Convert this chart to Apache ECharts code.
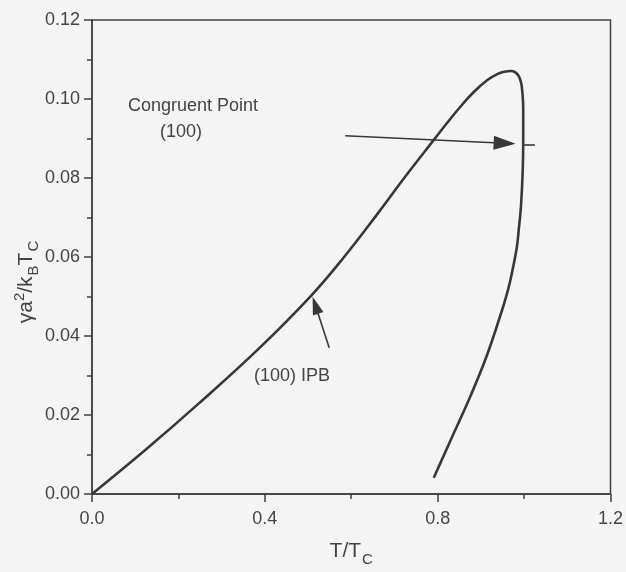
<!DOCTYPE html>
<html>
<head>
<meta charset="utf-8">
<script src="https://cdn.jsdelivr.net/npm/echarts@6/dist/echarts.min.js"></script>
<style>
html,body{margin:0;padding:0;background:#f3f4f3;}
#chart{width:626px;height:572px;}
</style>
</head>
<body>
<div id="chart"></div>
<script>
// Curve (100) IPB, traced along its path
const curveT = [0, 0.124, 0.248, 0.386, 0.508, 0.582, 0.662, 0.726, 0.793, 0.823, 0.853, 0.883, 0.915, 0.938, 0.954, 0.970, 0.979, 0.987, 0.993, 0.996, 0.998, 0.998, 0.998, 0.997, 0.993, 0.988, 0.983, 0.968, 0.958, 0.946, 0.913, 0.876, 0.832, 0.791];
const curveY = [0, 0.0112, 0.0230, 0.0368, 0.0503, 0.0598, 0.0711, 0.0805, 0.0899, 0.0941, 0.0981, 0.1017, 0.1048, 0.1063, 0.1069, 0.1071, 0.1068, 0.1059, 0.1042, 0.1017, 0.0979, 0.0936, 0.0899, 0.0823, 0.0731, 0.0673, 0.0623, 0.0540, 0.0498, 0.0455, 0.0348, 0.0248, 0.0141, 0.0041];
const xTicks = [0, 0.4, 0.8, 1.2];
const yTicks = [0, 0.02, 0.04, 0.06, 0.08, 0.10, 0.12];

// annotation arrows (data coordinates)
const arrowCongruent = [[0.586, 0.0907], [0.955, 0.0888]];
const markCongruent = [[1.0, 0.0884], [1.025, 0.0884]];
const arrowIPB = [[0.549, 0.0370], [0.517, 0.0478]];

const chart = echarts.init(document.getElementById('chart'));
const axisCol = '#3d423d';
const txtCol = '#444';
const fontFam = '"Liberation Sans", Arial, sans-serif';

const curve = curveT.map((t, i) => [t, curveY[i]]);

chart.setOption({
  backgroundColor: '#f3f4f3',
  animation: false,
  grid: {left: 92, top: 20, right: 12, bottom: 73, show: true, borderColor: axisCol, borderWidth: 1.5, backgroundColor: 'transparent'},
  xAxis: {
    type: 'value', min: xTicks[0], max: xTicks[xTicks.length - 1], interval: 0.4,
    name: '{m|T/T}{sub|C}', nameLocation: 'middle', nameGap: 42,
    nameTextStyle: {rich: {
      m: {fontSize: 21, color: txtCol, fontFamily: fontFam},
      sub: {fontSize: 15, color: txtCol, fontFamily: fontFam, padding: [16, 0, 0, 1]}
    }},
    axisLine: {lineStyle: {color: axisCol, width: 1.5}},
    axisTick: {inside: false, length: 8, lineStyle: {color: axisCol, width: 1.5}},
    minorTick: {show: true, splitNumber: 2, length: 5, lineStyle: {color: axisCol, width: 1.5}},
    splitLine: {show: false},
    axisLabel: {fontSize: 18, color: txtCol, fontFamily: fontFam, margin: 16, formatter: v => v.toFixed(1)}
  },
  yAxis: {
    type: 'value', min: yTicks[0], max: yTicks[yTicks.length - 1], interval: 0.02,
    axisLine: {lineStyle: {color: axisCol, width: 1.5}},
    axisTick: {inside: false, length: 8, lineStyle: {color: axisCol, width: 1.5}},
    minorTick: {show: true, splitNumber: 2, length: 5, lineStyle: {color: axisCol, width: 1.5}},
    splitLine: {show: false},
    axisLabel: {fontSize: 18, color: txtCol, fontFamily: fontFam, margin: 12, formatter: v => v.toFixed(2)}
  },
  series: [
    {
      type: 'line', data: curve, smooth: 0.4, showSymbol: false, symbol: 'none',
      lineStyle: {color: '#353a36', width: 2.6}, z: 3
    },
    {
      type: 'line', data: [], silent: true,
      markLine: {
        silent: true, animation: false,
        label: {show: false},
        lineStyle: {color: '#353a36', width: 1.6, type: 'solid'},
        symbol: ['none', 'triangle'],
        data: [
          [{coord: arrowCongruent[0]}, {coord: arrowCongruent[1], symbolSize: [14, 22]}],
          [{coord: arrowIPB[0]}, {coord: arrowIPB[1], symbolSize: [11, 18]}],
          [{coord: markCongruent[0], symbol: 'none'}, {coord: markCongruent[1], symbol: 'none'}]
        ]
      }
    }
  ],
  graphic: [
    {type: 'text', x: 193, y: 106, style: {text: 'Congruent Point', fontSize: 18, fill: txtCol, fontFamily: fontFam, align: 'center', verticalAlign: 'middle'}},
    {type: 'text', x: 181, y: 132, style: {text: '(100)', fontSize: 18, fill: txtCol, fontFamily: fontFam, align: 'center', verticalAlign: 'middle'}},
    {type: 'text', x: 292, y: 376, style: {text: '(100) IPB', fontSize: 18, fill: txtCol, fontFamily: fontFam, align: 'center', verticalAlign: 'middle'}},
    {type: 'text', x: 26, y: 282, rotation: Math.PI / 2, style: {
      text: '{m|γa}{sup|2}{m|/k}{sub|B}{m|T}{sub|C}', align: 'center', verticalAlign: 'middle',
      rich: {
        m: {fontSize: 21, fill: txtCol, fontFamily: fontFam},
        sup: {fontSize: 15, fill: txtCol, fontFamily: fontFam, padding: [0, 0, 12, 0]},
        sub: {fontSize: 15, fill: txtCol, fontFamily: fontFam, padding: [16, 0, 0, 1]}
      }
    }}
  ]
});
</script>
</body>
</html>
